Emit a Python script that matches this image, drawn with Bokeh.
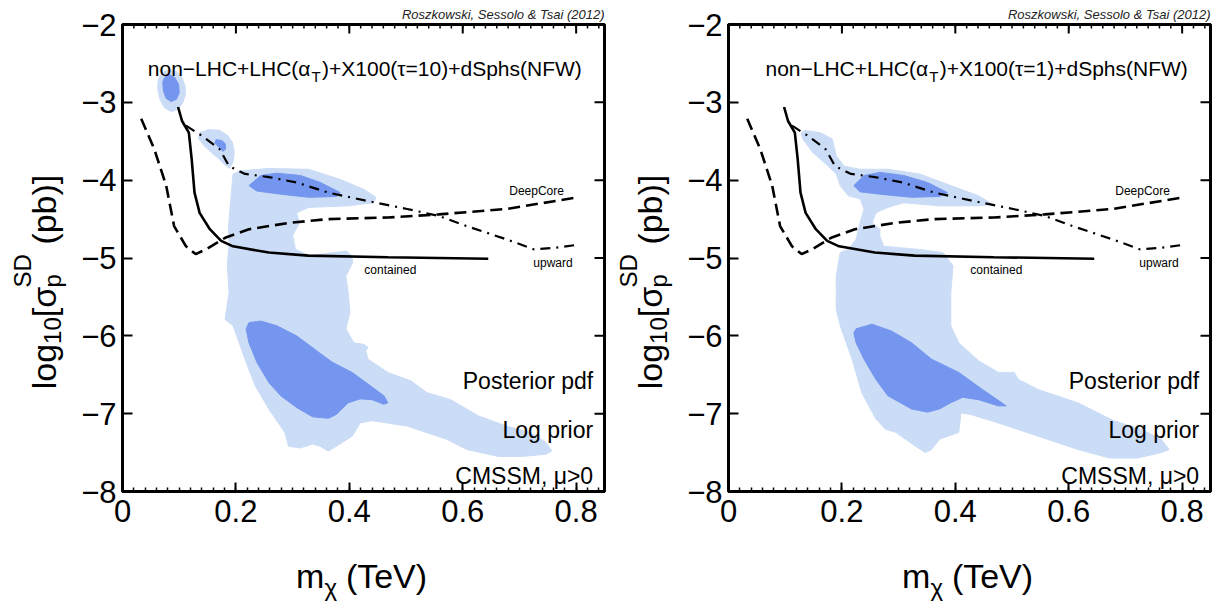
import math
from bokeh.plotting import figure
from bokeh.layouts import row, column
from bokeh.models import FixedTicker, LinearAxis
from bokeh.core.properties import value
from bokeh.embed import file_html
from bokeh.resources import INLINE

# ---------------- data ----------------
X_TICKS = [0, 0.2, 0.4, 0.6, 0.8]
X_TICK_LABELS = ["0", "0.2", "0.4", "0.6", "0.8"]
X_MINOR = [round(0.02 * i, 2) for i in range(43)]
Y_TICKS = [-8, -7, -6, -5, -4, -3, -2]
Y_TICK_LABELS = ["−8", "−7", "−6", "−5", "−4", "−3", "−2"]
X_RANGE = (0.0, 0.85)
Y_RANGE = (-8.0, -2.0)

# IceCube limits (same in both panels)
CONTAINED_X = [0.098, 0.105, 0.117, 0.122, 0.127, 0.136, 0.154, 0.174, 0.195, 0.258, 0.328, 0.468, 0.645]
CONTAINED_Y = [-3.06, -3.24, -3.39, -3.73, -4.16, -4.42, -4.63, -4.78, -4.85, -4.93, -4.97, -4.99, -5.01]
DEEPCORE_X = [0.033, 0.056, 0.077, 0.091, 0.112, 0.129, 0.147, 0.181, 0.223, 0.293, 0.363, 0.468, 0.558, 0.677, 0.803]
DEEPCORE_Y = [-3.21, -3.60, -4.07, -4.59, -4.85, -4.95, -4.89, -4.74, -4.63, -4.55, -4.50, -4.48, -4.44, -4.37, -4.22]
UPWARD_X = [0.112, 0.140, 0.171, 0.188, 0.216, 0.258, 0.307, 0.363, 0.447, 0.502, 0.558, 0.607, 0.677, 0.726, 0.761, 0.803]
UPWARD_Y = [-3.30, -3.43, -3.60, -3.82, -3.92, -3.96, -4.03, -4.16, -4.29, -4.37, -4.46, -4.59, -4.76, -4.89, -4.87, -4.83]

# Left panel (tau = 10) credible regions
T10_LIGHT_A_X = [0.082, 0.094, 0.104, 0.110, 0.111, 0.106, 0.097, 0.086, 0.074, 0.066, 0.062, 0.063, 0.069]
T10_LIGHT_A_Y = [-2.58, -2.60, -2.67, -2.78, -2.90, -3.01, -3.09, -3.12, -3.07, -2.96, -2.83, -2.71, -2.62]
T10_LIGHT_B_X = [0.136, 0.152, 0.171, 0.186, 0.194, 0.197, 0.195, 0.189, 0.180, 0.169, 0.156, 0.143, 0.134]
T10_LIGHT_B_Y = [-3.39, -3.35, -3.36, -3.43, -3.52, -3.64, -3.76, -3.85, -3.80, -3.72, -3.64, -3.55, -3.46]
T10_LIGHT_C_X = [0.195, 0.209, 0.258, 0.328, 0.384, 0.426, 0.447, 0.443, 0.398, 0.328, 0.307, 0.312, 0.300,
                 0.305, 0.330, 0.395, 0.404, 0.406, 0.394, 0.398, 0.401, 0.394, 0.401, 0.408, 0.426, 0.433,
                 0.429, 0.433, 0.468, 0.509, 0.537, 0.579, 0.628, 0.677, 0.719, 0.747, 0.757, 0.747, 0.705,
                 0.663, 0.607, 0.572, 0.502, 0.440, 0.419, 0.405, 0.377, 0.363, 0.349, 0.335, 0.314, 0.293,
                 0.286, 0.258, 0.234, 0.216, 0.195, 0.181, 0.188, 0.185, 0.188, 0.187, 0.192]
T10_LIGHT_C_Y = [-3.92, -3.88, -3.85, -3.86, -3.99, -4.12, -4.22, -4.29, -4.33, -4.35, -4.42, -4.55, -4.71,
                 -4.89, -4.97, -4.91, -4.97, -5.06, -5.23, -5.45, -5.70, -5.91, -6.00, -6.09, -6.11, -6.15,
                 -6.19, -6.30, -6.47, -6.58, -6.73, -6.82, -7.03, -7.16, -7.24, -7.37, -7.48, -7.52, -7.55,
                 -7.55, -7.46, -7.33, -7.16, -7.09, -7.12, -7.29, -7.42, -7.48, -7.42, -7.39, -7.44, -7.42,
                 -7.24, -6.94, -6.64, -6.30, -5.87, -5.79, -5.44, -5.10, -4.80, -4.59, -4.16]
T10_DARK_A_X = [0.082, 0.092, 0.099, 0.100, 0.095, 0.086, 0.077, 0.072, 0.071, 0.075]
T10_DARK_A_Y = [-2.64, -2.68, -2.77, -2.88, -2.96, -2.99, -2.95, -2.85, -2.74, -2.67]
T10_DARK_B_X = [0.165, 0.175, 0.181, 0.182, 0.177, 0.170, 0.163]
T10_DARK_B_Y = [-3.48, -3.49, -3.53, -3.60, -3.63, -3.58, -3.52]
T10_DARK_C_X = [0.223, 0.244, 0.272, 0.314, 0.349, 0.384, 0.377, 0.328, 0.279, 0.237]
T10_DARK_C_Y = [-4.07, -3.94, -3.91, -3.94, -4.03, -4.16, -4.21, -4.22, -4.18, -4.14]
T10_DARK_D_X = [0.223, 0.244, 0.272, 0.307, 0.342, 0.370, 0.405, 0.433, 0.461, 0.468, 0.461, 0.440, 0.419,
                0.398, 0.377, 0.363, 0.335, 0.307, 0.279, 0.258, 0.237, 0.223, 0.218]
T10_DARK_D_Y = [-5.83, -5.81, -5.87, -6.00, -6.19, -6.34, -6.47, -6.62, -6.77, -6.86, -6.88, -6.82, -6.81,
                -6.86, -7.01, -7.06, -7.04, -6.92, -6.77, -6.60, -6.34, -6.09, -5.91]

# Right panel (tau = 1) credible regions
T1_LIGHT_A_X = [0.134, 0.162, 0.183, 0.190, 0.204, 0.232, 0.281, 0.337, 0.392, 0.441, 0.466, 0.441, 0.372,
                0.309, 0.281, 0.260, 0.253, 0.267, 0.267, 0.274, 0.337, 0.378, 0.396, 0.392, 0.392, 0.392,
                0.406, 0.441, 0.476, 0.504, 0.511, 0.546, 0.616, 0.679, 0.728, 0.763, 0.777, 0.763, 0.721,
                0.672, 0.616, 0.546, 0.476, 0.427, 0.410, 0.406, 0.372, 0.358, 0.347, 0.330, 0.295, 0.277,
                0.260, 0.235, 0.218, 0.197, 0.190, 0.190, 0.190, 0.197, 0.211, 0.225, 0.232, 0.239, 0.232,
                0.211, 0.197, 0.190, 0.176, 0.148, 0.131, 0.128]
T1_LIGHT_A_Y = [-3.36, -3.39, -3.47, -3.69, -3.82, -3.86, -3.86, -3.92, -4.07, -4.20, -4.31, -4.33, -4.33,
                -4.29, -4.35, -4.42, -4.55, -4.63, -4.72, -4.85, -4.89, -4.93, -5.10, -5.44, -5.70, -5.87,
                -6.09, -6.32, -6.47, -6.47, -6.56, -6.69, -6.86, -7.09, -7.20, -7.33, -7.46, -7.50, -7.57,
                -7.57, -7.46, -7.29, -7.12, -7.01, -6.99, -7.24, -7.33, -7.46, -7.50, -7.42, -7.24, -7.20,
                -7.07, -6.73, -6.30, -5.87, -5.66, -5.44, -5.23, -4.93, -4.89, -4.76, -4.55, -4.37, -4.24,
                -4.20, -4.07, -3.92, -3.82, -3.64, -3.47, -3.40]
T1_DARK_A_X = [0.221, 0.239, 0.267, 0.309, 0.351, 0.386, 0.372, 0.323, 0.267, 0.232]
T1_DARK_A_Y = [-4.07, -3.94, -3.90, -3.94, -4.03, -4.16, -4.21, -4.22, -4.18, -4.15]
T1_DARK_B_X = [0.225, 0.253, 0.288, 0.323, 0.358, 0.406, 0.448, 0.490, 0.476, 0.441, 0.413, 0.392, 0.372,
               0.351, 0.323, 0.281, 0.260, 0.239, 0.225, 0.221]
T1_DARK_B_Y = [-5.91, -5.85, -5.94, -6.09, -6.30, -6.47, -6.69, -6.90, -6.90, -6.82, -6.79, -6.86, -6.94,
               -6.98, -6.94, -6.77, -6.56, -6.30, -6.09, -5.96]

CREDIT = "Roszkowski, Sessolo & Tsai (2012)"
HEAD_LEFT = "non−LHC+LHC(α"
HEAD_SUB = "T"
HEAD_RIGHT_T10 = ")+X100(τ=10)+dSphs(NFW)"
HEAD_RIGHT_T1 = ")+X100(τ=1)+dSphs(NFW)"
CORNER_TEXT = ["Posterior pdf", "Log prior", "CMSSM, μ>0"]
CORNER_Y = [-6.58, -7.21, -7.80]
CURVE_NAMES = ["DeepCore", "upward", "contained"]
CURVE_NAME_X = [0.682, 0.7245, 0.4265]
CURVE_NAME_Y = [-4.134, -5.06, -5.15]
YLABEL_PARTS = ["log", "10", "[σ", "p", "SD", "(pb)]"]
XLABEL_PARTS = ["m", "χ", "(TeV)"]

# ---------------- style / layout ----------------
FONT = "Liberation Sans"
LIGHT = "#cbdcf6"
DARK = "#7596ee"
FW, FH = 482, 467            # plot frame size
YLAB_W = 70                  # strip holding the y label
MAIN_L, MAIN_R, MAIN_T, MAIN_B = 52, 2, 24, 50
MAIN_W = MAIN_L + FW + MAIN_R
MAIN_H = MAIN_T + FH + MAIN_B
PANEL_W = YLAB_W + MAIN_W
XLAB_H = 60

CW = {' ': .278, '(': .333, ')': .333, '[': .278, ']': .278, '+': .584, '=': .584, '−': .584,
      '.': .278, ',': .278, '>': .584, 'b': .556, 'c': .5, 'd': .556, 'e': .556, 'g': .556,
      'h': .556, 'i': .222, 'l': .222, 'm': .833, 'n': .556, 'o': .556, 'p': .556, 'r': .333,
      's': .5, 'C': .722, 'D': .722, 'F': .611, 'H': .722, 'L': .556, 'N': .722, 'S': .667,
      'T': .611, 'V': .667, 'W': .944, 'X': .667, 'α': .578, 'τ': .46, 'σ': .6, 'χ': .5}


def tw(s, size):
    return sum(CW.get(c, 0.556) for c in s) * size


def strip(w, h):
    s = figure(frame_width=w, frame_height=h, x_range=(0, w), y_range=(0, h),
               output_backend="svg", toolbar_location=None, x_axis_type=None, y_axis_type=None,
               min_border=0, min_border_left=0, min_border_right=0, min_border_top=0, min_border_bottom=0)
    s.grid.visible = False
    s.outline_line_color = None
    s.background_fill_color = "white"
    s.border_fill_color = "white"
    return s


def txt(fig, x, y, s, size, **kw):
    fig.text(x=[x], y=[y], text=[s], text_font=value(FONT), text_font_size=f"{size}px",
             text_color="black", **kw)


def make_main(light, dark, head_right):
    p = figure(frame_width=FW, frame_height=FH, x_range=X_RANGE, y_range=Y_RANGE,
               output_backend="svg", toolbar_location=None,
               min_border_left=MAIN_L, min_border_right=MAIN_R, min_border_top=MAIN_T,
               min_border_bottom=MAIN_B, x_axis_type=None, y_axis_type=None,
               title=CREDIT)
    p.title.align = "right"
    p.title.text_font = FONT
    p.title.text_font_size = "13px"
    p.title.text_font_style = "italic"
    p.title.text_color = "#222222"
    p.title.standoff = 6
    p.grid.visible = False
    p.outline_line_color = "black"
    p.outline_line_width = 3
    p.background_fill_color = "white"
    p.border_fill_color = "white"

    bx = LinearAxis(ticker=FixedTicker(ticks=X_TICKS, minor_ticks=X_MINOR))
    bx.major_label_overrides = {t: l for t, l in zip(X_TICKS, X_TICK_LABELS)}
    ly = LinearAxis(ticker=FixedTicker(ticks=Y_TICKS, minor_ticks=[]))
    ly.major_label_overrides = {t: l for t, l in zip(Y_TICKS, Y_TICK_LABELS)}
    for ax, mj, mn in ((bx, 9, 4), (ly, 10, 0)):
        ax.axis_line_width = 3
        ax.major_tick_in = mj
        ax.major_tick_out = 0
        ax.minor_tick_in = mn
        ax.minor_tick_out = 0
        ax.major_tick_line_width = 2
        ax.minor_tick_line_width = 1.5
        ax.major_label_text_font = FONT
        ax.major_label_text_font_size = "31px"
        ax.major_label_text_color = "black"
    bx.major_label_standoff = 8
    ly.major_label_standoff = 6
    p.add_layout(bx, "below")
    p.add_layout(ly, "left")

    for xs, ys in light:
        p.patch(xs, ys, fill_color=LIGHT, line_color=LIGHT, line_width=1)
    for xs, ys in dark:
        p.patch(xs, ys, fill_color=DARK, line_color=DARK, line_width=1)

    p.line(CONTAINED_X, CONTAINED_Y, line_color="black", line_width=2.6)
    p.line(DEEPCORE_X, DEEPCORE_Y, line_color="black", line_width=2.6, line_dash="12 6")
    p.line(UPWARD_X, UPWARD_Y, line_color="black", line_width=2.2, line_dash="10 6 2 6")

    # ticks mirrored on the top and right edges (half of each dash is clipped by the frame)
    p.scatter(x=X_TICKS, y=[Y_RANGE[1]] * len(X_TICKS), marker="dash", angle=math.pi / 2,
              size=18, line_color="black", line_width=2)
    p.scatter(x=X_MINOR, y=[Y_RANGE[1]] * len(X_MINOR), marker="dash", angle=math.pi / 2,
              size=8, line_color="black", line_width=1.5)
    p.scatter(x=[X_RANGE[1]] * len(Y_TICKS), y=Y_TICKS, marker="dash",
              size=20, line_color="black", line_width=2)

    p.text(x=CURVE_NAME_X, y=CURVE_NAME_Y, text=CURVE_NAMES, text_font=value(FONT),
           text_font_size="12px", text_color="black", text_align="left", text_baseline="alphabetic")
    p.text(x=[0.83] * 3, y=CORNER_Y, text=CORNER_TEXT, text_font=value(FONT),
           text_font_size="23px", text_color="black", text_align="right", text_baseline="alphabetic")

    hs, ss = 21, 15
    w_right = tw(head_right, hs)
    w_sub = tw(HEAD_SUB, ss)
    txt(p, 0.81, -2.565, head_right, hs, text_align="right", text_baseline="alphabetic")
    txt(p, 0.81, -2.565, HEAD_SUB, ss, text_align="right", text_baseline="alphabetic",
        x_offset=-w_right, y_offset=8)
    txt(p, 0.81, -2.565, HEAD_LEFT, hs, text_align="right", text_baseline="alphabetic",
        x_offset=-(w_right + w_sub + 1))
    return p


def make_panel(light, dark, head_right):
    main = make_main(light, dark, head_right)

    # y label strip: log10[σp^SD (pb)]
    ylab = strip(YLAB_W, MAIN_H)
    F, f = 34, 24
    sizes = [F, f, F, f, f, F]
    shifts = [0, 9, 0, 9, -21, 0]
    w = [tw(s, z) for s, z in zip(YLABEL_PARTS, sizes)]
    gap = tw(" ", F)
    total = w[0] + w[1] + w[2] + max(w[3], w[4]) + gap + w[5]
    center = MAIN_B + FH / 2
    y = center - total / 2
    starts = [y, y + w[0], y + w[0] + w[1], y + w[0] + w[1] + w[2], y + w[0] + w[1] + w[2],
              y + w[0] + w[1] + w[2] + max(w[3], w[4]) + gap]
    base = 43
    for s, z, dx, y0 in zip(YLABEL_PARTS, sizes, shifts, starts):
        txt(ylab, base + dx, y0, s, z, angle=math.pi / 2, text_align="left", text_baseline="alphabetic")

    # x label strip: m_chi (TeV)
    xlab = strip(PANEL_W, XLAB_H)
    XF, xf = 34, 24
    xs_sizes = [XF, xf, XF]
    xs_dy = [0, -12, 0]
    xw = [tw(s, z) for s, z in zip(XLABEL_PARTS, xs_sizes)]
    xgap = tw(" ", XF)
    x0 = YLAB_W + MAIN_L + FW / 2 - (sum(xw) + xgap) / 2
    for i, (s, z, dy, ww) in enumerate(zip(XLABEL_PARTS, xs_sizes, xs_dy, xw)):
        txt(xlab, x0, 26 + dy, s, z, text_align="left", text_baseline="alphabetic")
        x0 += ww + (xgap if i == 1 else 0)

    return column(row(ylab, main), xlab)


panel1 = make_panel(
    [(T10_LIGHT_A_X, T10_LIGHT_A_Y), (T10_LIGHT_B_X, T10_LIGHT_B_Y), (T10_LIGHT_C_X, T10_LIGHT_C_Y)],
    [(T10_DARK_A_X, T10_DARK_A_Y), (T10_DARK_B_X, T10_DARK_B_Y), (T10_DARK_C_X, T10_DARK_C_Y),
     (T10_DARK_D_X, T10_DARK_D_Y)],
    HEAD_RIGHT_T10)
panel2 = make_panel(
    [(T1_LIGHT_A_X, T1_LIGHT_A_Y)],
    [(T1_DARK_A_X, T1_DARK_A_Y), (T1_DARK_B_X, T1_DARK_B_Y)],
    HEAD_RIGHT_T1)

layout = row(panel1, panel2)
open("out.html", "w").write(file_html(layout, INLINE))
